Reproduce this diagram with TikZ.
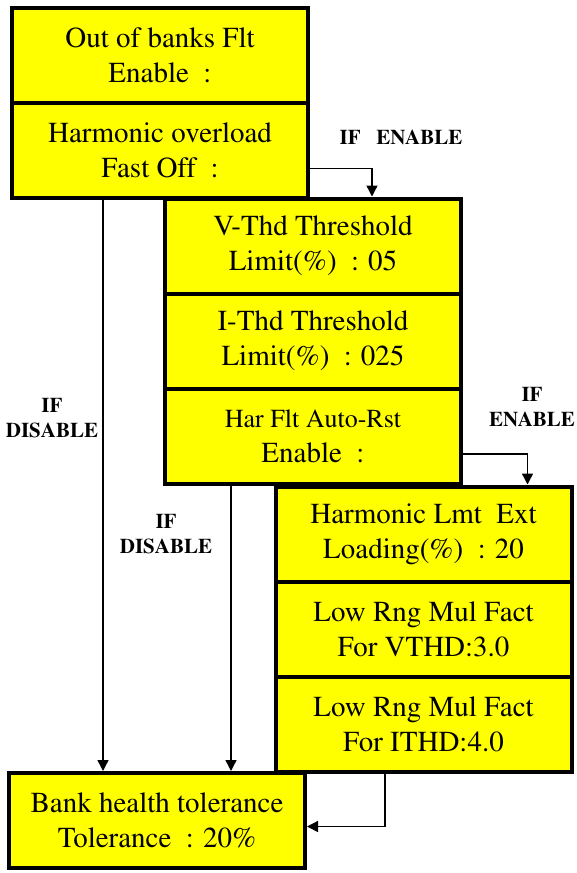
\documentclass[tikz,border=0pt]{standalone}
\usepackage[T1]{fontenc}
\usepackage{times}
\usepackage{tikz}
\usetikzlibrary{arrows.meta,positioning,calc}
\definecolor{PanelYellow}{HTML}{FFFF00}

\begin{document}
\begin{tikzpicture}[
  x=1pt, y=-1pt,
  node distance=0pt,
  box/.style={draw=black, line width=4pt, fill=PanelYellow, align=center, minimum width=296pt, minimum height=95pt, inner sep=0pt, outer sep=0pt, font=\fontsize{29}{35}\selectfont},
  cond/.style={align=center, font=\bfseries\fontsize{21}{25}\selectfont},
  arrow/.style={-{Triangle[length=11pt, width=11pt]}, line width=1.4pt, shorten >=2pt}
]
\useasboundingbox (0,0) rectangle (577,873);
% main menu column
\node[box] (banks) at (160,55.5) {Out of banks Flt\\Enable~~:};
\node[box, below=of banks] (fastoff) {Harmonic overload\\Fast Off~~:};
% harmonic fast off settings
\node[box] (vthd) at (313,246) {V-Thd Threshold\\Limit(\%)~~: 05};
\node[box, below=of vthd] (ithd) {I-Thd Threshold\\Limit(\%)~~: 025};
\node[box, below=of ithd] (autorst) {{\fontsize{26}{35}\selectfont Har Flt Auto-Rst}\\Enable~~:};
% auto reset settings
\node[box] (lmtext) at (423.5,534) {Harmonic Lmt~~Ext\\Loading(\%)~~: 20};
\node[box, below=of lmtext] (vthdmul) {Low Rng Mul Fact\\For VTHD:3.0};
\node[box, below=of vthdmul] (ithdmul) {Low Rng Mul Fact\\For ITHD:4.0};
\node[box] (tolerance) at (157,820.5) {Bank health tolerance\\Tolerance~~: 20\%};
% conditions
\node[cond] (enablea) at (401,137) {IF~~~ENABLE};
\node[cond] (enableb) at (532,407) {IF\\ENABLE};
\node[cond] (disablea) at (52,418) {IF\\DISABLE};
\node[cond] (disableb) at (166,534) {IF\\DISABLE};
\coordinate (skipa) at ($(fastoff.south)+(-57,0)$);
\coordinate (skipb) at ($(autorst.south)+(-82,0)$);
\draw[arrow] ($(fastoff.east)+(0,18)$) -| ($(vthd.north)+(59,0)$);
\draw[arrow] ($(autorst.east)+(0,18)$) -| ($(lmtext.north)+(104,0)$);
\draw[arrow] (skipa) -- (skipa |- tolerance.north);
\draw[arrow] (skipb) -- (skipb |- tolerance.north);
\draw[arrow] ($(ithdmul.south)+(-38.5,0)$) |- ($(tolerance.east)+(0,6)$);
\end{tikzpicture}
\end{document}
